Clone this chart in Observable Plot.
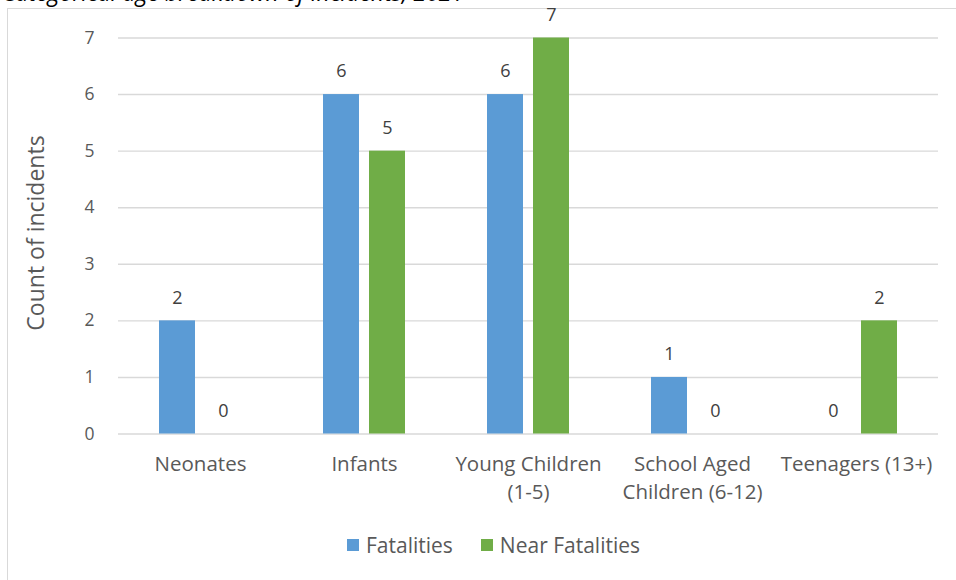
<!DOCTYPE html>
<html>
<head>
<meta charset="utf-8">
<script src="https://cdn.jsdelivr.net/npm/d3@7"></script>
<script src="https://cdn.jsdelivr.net/npm/@observablehq/plot@0.6"></script>
<style>
  html, body { margin: 0; padding: 0; background: #fff; }
  body { width: 956px; height: 580px; position: relative; overflow: hidden; font-family: "Open Sans", sans-serif; }
  #title { position: absolute; left: 2px; top: -24px; font-style: italic; font-size: 23px; color: #000; white-space: nowrap; z-index: 2; }
  #frame { position: absolute; left: 7px; top: 8px; width: 1000px; height: 600px; border-left: 1px solid #d9d9d9; border-top: 1px solid #d9d9d9; }
  #chart { position: absolute; left: 0; top: 0; }
  #ylabel { position: absolute; left: 35px; top: 233px; transform: translate(-50%, -50%) rotate(-90deg); font-size: 23px; color: #595959; white-space: nowrap; }
  #legend { position: absolute; top: 531px; left: 347px; display: flex; align-items: center; font-size: 21px; color: #595959; white-space: nowrap; }
  #legend .item { display: flex; align-items: center; margin-right: 28px; }
  #legend .sw { width: 12px; height: 12px; margin-right: 7px; }
</style>
</head>
<body>
<div id="title"></div>
<div id="frame"></div>
<div id="chart"></div>
<div id="ylabel"></div>
<div id="legend"></div>
<script>
// Age groups along the bottom axis (line breaks split long labels)
const categories = ["Neonates", "Infants", "Young Children\n(1-5)", "School Aged\nChildren (6-12)", "Teenagers (13+)"];
// Two series per age group
const series = ["Fatalities", "Near Fatalities"];
const seriesColors = ["#5b9bd5", "#70ad47"];
const fatalities = [2, 6, 6, 1, 0];
const nearFatalities = [0, 5, 7, 0, 2];
const yTicks = [0, 1, 2, 3, 4, 5, 6, 7];
const titleText = "Categorical age breakdown of incidents, 2021";
const yLabelText = "Count of incidents";

const rows = [];
categories.forEach((c, i) => {
  rows.push({category: c, series: series[0], value: fatalities[i]});
  rows.push({category: c, series: series[1], value: nearFatalities[i]});
});

document.getElementById("title").textContent = titleText;
document.getElementById("ylabel").textContent = yLabelText;

const chart = Plot.plot({
  width: 956,
  height: 510,
  marginLeft: 116,
  marginRight: 17,
  marginTop: 37.5,
  marginBottom: 76.5,
  style: {fontFamily: "Open Sans, sans-serif", fontSize: "17px", color: "#595959", background: "transparent"},
  fx: {domain: categories, padding: 0, label: null},
  x: {domain: series, paddingInner: 0.213, paddingOuter: 0.857, axis: null},
  y: {domain: [0, 7], label: null},
  color: {domain: series, range: seriesColors},
  marks: [
    Plot.gridY(yTicks, {stroke: "#d9d9d9", strokeOpacity: 1, strokeWidth: 1.4}),
    Plot.axisY(yTicks, {tickSize: 0, tickPadding: 24, tickFormat: d => String(d), fontSize: 17.5, fill: "#595959", label: null}),
    Plot.axisFx({anchor: "bottom", tickSize: 0, tickPadding: 18, fontSize: 20.5, fill: "#595959", label: null, lineHeight: 1.33}),
    Plot.barY(rows, {fx: "category", x: "series", y: "value", fill: "series"}),
    Plot.text(rows, {fx: "category", x: "series", y: "value", text: d => String(d.value), dy: -23, fontSize: 18, fill: "#404040"})
  ]
});
document.getElementById("chart").appendChild(chart);

const legend = document.getElementById("legend");
series.forEach((s, i) => {
  const item = document.createElement("div");
  item.className = "item";
  const sw = document.createElement("span");
  sw.className = "sw";
  sw.style.background = seriesColors[i];
  const label = document.createElement("span");
  label.textContent = s;
  item.appendChild(sw);
  item.appendChild(label);
  legend.appendChild(item);
});
</script>
</body>
</html>
